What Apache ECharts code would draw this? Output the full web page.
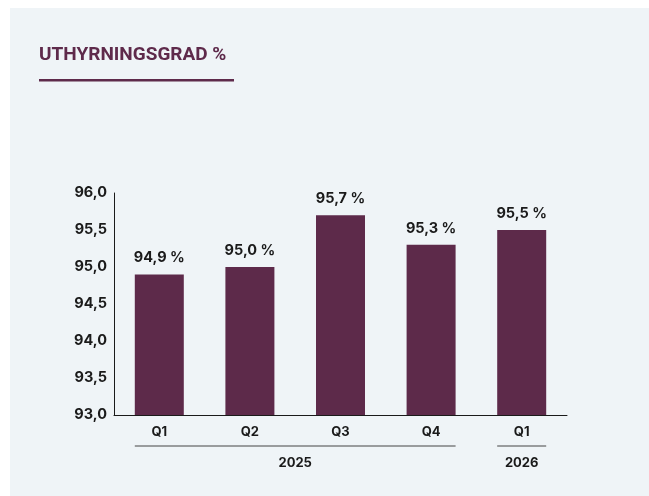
<!DOCTYPE html>
<html><head><meta charset="utf-8">
<script src="https://cdn.jsdelivr.net/npm/echarts@6/dist/echarts.min.js"></script>
<style>html,body{margin:0;padding:0;background:#fff}#c{width:649px;height:496px}</style>
</head><body><div id="c"></div>
<script>
const categories = ['Q1','Q2','Q3','Q4','Q1'];
const values = [94.9, 95.0, 95.7, 95.3, 95.5];
const yearGroups = [{label:'2025', from:0, to:3}, {label:'2026', from:4, to:4}];
const title = 'UTHYRNINGSGRAD %';

const fmt = v => v.toFixed(1).replace('.', ',');
const chart = echarts.init(document.getElementById('c'));
const FONT = 'Inter, "Liberation Sans", sans-serif';
const option = {
  backgroundColor: '#ffffff',
  animation: false,
  grid: {left: 114, right: 82, top: 193, bottom: 81},
  xAxis: {
    type: 'category', data: categories,
    axisLine: {lineStyle: {color: '#1a1a1a', width: 1}},
    axisTick: {show: false},
    axisLabel: {color: '#1a1a1a', fontFamily: FONT, fontWeight: 'bold', fontSize: 13, margin: 11}
  },
  yAxis: {
    type: 'value', min: 93, max: 96, interval: 0.5,
    axisLine: {show: true, lineStyle: {color: '#1a1a1a', width: 1}},
    axisTick: {show: false},
    splitLine: {show: false},
    axisLabel: {color: '#1a1a1a', fontFamily: FONT, fontWeight: 'bold', fontSize: 14.5, margin: 7, formatter: v => fmt(v)}
  },
  series: [{
    type: 'bar', data: values, barWidth: 49,
    itemStyle: {color: '#5d2a4a'},
    label: {show: true, position: 'top', distance: 9, color: '#1a1a1a', fontFamily: FONT, fontWeight: 'bold', fontSize: 14.5,
      formatter: p => fmt(p.value) + ' %'}
  }]
};
chart.setOption(option);

function build() {
  const els = [
    {type: 'rect', shape: {x: 10, y: 8, width: 639, height: 488}, style: {fill: '#eff4f7'}, z: -10, silent: true},
    {type: 'text', left: 39, top: 46, style: {text: title, fill: '#5e2a4b', font: 'bold 19px Roboto, "Liberation Sans", sans-serif'}},
    {type: 'rect', shape: {x: 39, y: 79, width: 195, height: 2.5}, style: {fill: '#5e2a4b'}}
  ];
  const half = 49 / 2;
  yearGroups.forEach(g => {
    const x0 = chart.convertToPixel({xAxisIndex: 0}, g.from) - half;
    const x1 = chart.convertToPixel({xAxisIndex: 0}, g.to) + half;
    els.push({type: 'line', shape: {x1: x0, y1: 446, x2: x1, y2: 446}, style: {stroke: '#444', lineWidth: 1}});
    els.push({type: 'text', x: (x0 + x1) / 2, y: 463, style: {text: g.label, fill: '#1a1a1a', font: 'bold 13px ' + FONT, align: 'center', verticalAlign: 'middle'}});
  });
  chart.setOption({graphic: els});
}
build();
</script></body></html>
